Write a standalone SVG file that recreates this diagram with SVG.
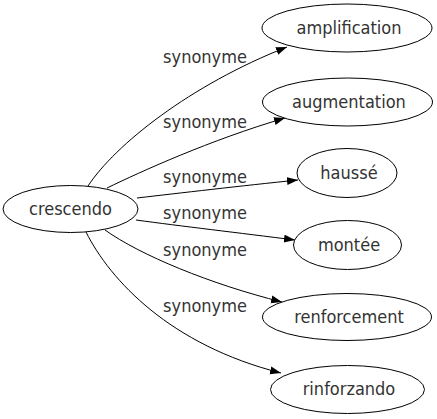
<svg xmlns="http://www.w3.org/2000/svg" width="437" height="419" viewBox="0 0 437 419">
<style>
.n ellipse{fill:#fff;stroke:#000;stroke-width:1}
text{font-family:"DejaVu Sans Condensed","DejaVu Sans",sans-serif;font-size:18px;fill:#333;text-anchor:middle}
.e path{fill:none;stroke:#000;stroke-width:1}
</style>
<defs>
<marker id="ah" markerUnits="userSpaceOnUse" markerWidth="12" markerHeight="10" refX="11" refY="4" orient="auto">
<path d="M0,0 L11,4 L0,8 Z" fill="#000"/>
</marker>
</defs>
<rect width="437" height="419" fill="#fff"/>
<g id="edges" class="e">
<path d="M88,186 C115,145 190,85 287,47" marker-end="url(#ah)"/>
<path d="M107,188 C140,172 210,140 285,118" marker-end="url(#ah)"/>
<path d="M137,198 C180,193 240,186 298,180" marker-end="url(#ah)"/>
<path d="M136,220 C180,226 240,233 295,240" marker-end="url(#ah)"/>
<path d="M105,230 C140,255 210,284 282,302" marker-end="url(#ah)"/>
<path d="M86,232 C110,280 170,345 281,373" marker-end="url(#ah)"/>
<text x="205" y="63">synonyme</text>
<text x="205" y="128">synonyme</text>
<text x="205" y="183">synonyme</text>
<text x="205" y="219">synonyme</text>
<text x="205" y="256">synonyme</text>
<text x="205" y="312">synonyme</text>
</g>
<g id="crescendo" class="n"><ellipse cx="70.5" cy="209" rx="67.5" ry="23.5"/><text x="70.5" y="214.5">crescendo</text></g>
<g id="amplification" class="n"><ellipse cx="347" cy="28" rx="85" ry="24"/><text x="349" y="33.5">amplification</text></g>
<g id="augmentation" class="n"><ellipse cx="347.5" cy="102" rx="85" ry="24"/><text x="349" y="107.5">augmentation</text></g>
<g id="hausse" class="n"><ellipse cx="347" cy="173" rx="50" ry="24.5"/><text x="349" y="178.5">haussé</text></g>
<g id="montee" class="n"><ellipse cx="347.5" cy="245" rx="54" ry="24.5"/><text x="349" y="250.5">montée</text></g>
<g id="renforcement" class="n"><ellipse cx="347" cy="317" rx="84.5" ry="23.5"/><text x="349" y="322.5">renforcement</text></g>
<g id="rinforzando" class="n"><ellipse cx="347.5" cy="389.5" rx="77" ry="24"/><text x="349" y="395">rinforzando</text></g>
</svg>
